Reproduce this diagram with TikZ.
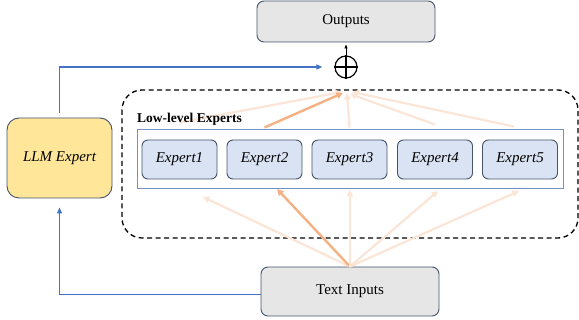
\documentclass[tikz,border=0pt]{standalone}
\usepackage{fontspec}
\setmainfont{Liberation Serif}
\usetikzlibrary{arrows.meta}
\definecolor{boxline}{HTML}{44546A}
\definecolor{greyfill}{HTML}{E7E6E6}
\definecolor{expfill}{HTML}{DAE3F3}
\definecolor{llmfill}{HTML}{FFE699}
\definecolor{framecol}{HTML}{7490C6}
\definecolor{skipcol}{HTML}{4472C4}
\definecolor{routecol}{HTML}{FBE5D6}
\definecolor{picked}{HTML}{F4B183}
\tikzset{
  txt/.style={font=\fontsize{15}{18}\selectfont},
  iobox/.style={txt, draw=boxline, fill=greyfill, line width=0.9pt,
    rounded corners=7pt, minimum width=178pt},
  expbox/.style={txt, draw=boxline, fill=expfill, line width=0.9pt,
    rounded corners=6pt, minimum width=75pt, minimum height=39pt,
    font=\fontsize{15}{18}\selectfont\itshape},
  skip/.style={draw=skipcol, line width=1.9pt,
    -{Triangle[length=6pt,width=5pt]}},
  route/.style={draw=routecol, line width=2.2pt,
    -{Triangle[length=6.5pt,width=6.5pt]}},
  chosen/.style={draw=picked, line width=2.4pt,
    -{Triangle[length=6.5pt,width=6.5pt]}},
}
\begin{document}
\begin{tikzpicture}[x=1pt,y=-1pt]
      \useasboundingbox (0,0) rectangle (579,320);
      \draw[line width=1.3pt, dash pattern=on 5pt off 3.5pt, rounded corners=20pt]
        (122,90) rectangle (578,238);
      \node[iobox, minimum height=41pt] (out) at (346,21.5) {Outputs};
      \node[iobox, minimum height=49pt] (inp) at (350,291.5) {Text Inputs};
      \node[circle, draw, line width=1.2pt, minimum size=22pt, inner sep=0pt] (sum) at (346,67) {};
      \draw[line width=1.2pt] (sum.north) -- (sum.south) (sum.west) -- (sum.east);
      \node[txt, draw=boxline, fill=llmfill, line width=0.9pt, rounded corners=12pt,
        minimum width=105pt, minimum height=80pt, font=\fontsize{15}{18}\selectfont\itshape]
        (llm) at (59.5,158) {LLM Expert};
      \node[draw=framecol, fill=white, line width=1pt, minimum width=426pt,
        minimum height=59pt, inner sep=0pt] (frame) at (350,159.5) {};
      \node[expbox] (e1) at (179.5,159.5) {Expert1};
      \node[expbox] (e2) at (264.5,159.5) {Expert2};
      \node[expbox] (e3) at (349.5,159.5) {Expert3};
      \node[expbox] (e4) at (435,159.5) {Expert4};
      \node[expbox] (e5) at (520,159.5) {Expert5};
      \coordinate (hub) at (347,92);
      \coordinate (in1) at (203,197);
      \coordinate (in2) at (277,189);
      \coordinate (in3) at (350,190);
      \coordinate (in4) at (438,191);
      \coordinate (in5) at (519,191);
      \begin{scope}
        \draw[route] ([yshift=7pt]e1.north |- frame.north) to ([xshift=-5pt]hub);
        \draw[chosen] ([yshift=2pt]e2.north |- frame.north) to ([xshift=-4pt,yshift=-1pt]hub);
        \draw[route] ([yshift=2pt]e3.north |- frame.north) to ([yshift=-1pt]hub);
        \draw[route] ([yshift=5pt]e4.north |- frame.north) to ([xshift=3pt,yshift=-2pt]hub);
        \draw[route] ([xshift=-6pt,yshift=3pt]e5.north |- frame.north) to ([xshift=5pt]hub);
        \draw[route] (inp.north) to (in1);
        \draw[chosen] (inp.north) to (in2);
        \draw[route] (inp.north) to (in3);
        \draw[route] (inp.north) to (in4);
        \draw[route] (inp.north) to (in5);
        \draw[line width=0.8pt, -{Triangle[length=4pt,width=3pt]}, shorten >=2pt]
          (sum.north) to (out.south);
        \draw[skip, shorten <=5pt, shorten >=12pt] (llm.north) |- (sum.west);
        \draw[skip, shorten >=9pt] ([yshift=-3pt]inp.west) -| (llm.south);
      \end{scope}
      \node[anchor=base west, inner sep=0pt, font=\fontsize{13.5}{16}\selectfont\bfseries]
        (lbl) at (137,123) {Low-level Experts};
    \end{tikzpicture}
\end{document}
